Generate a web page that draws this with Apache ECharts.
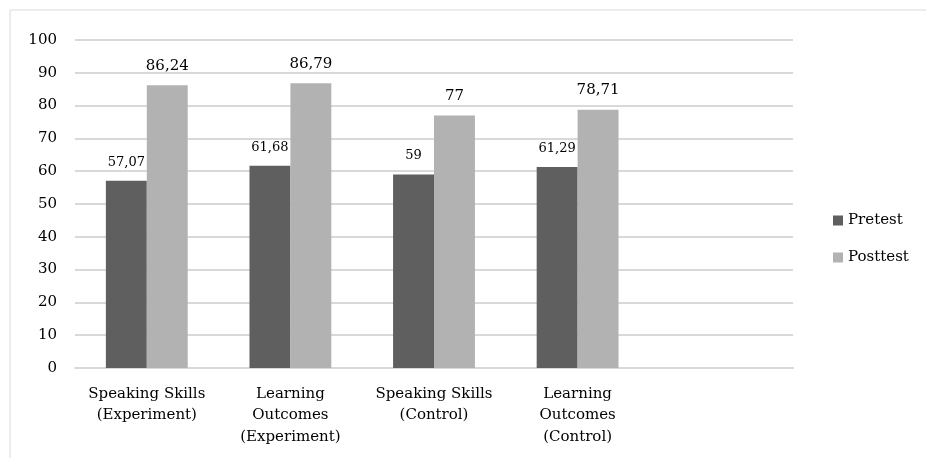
<!DOCTYPE html>
<html>
<head>
<meta charset="utf-8">
<title>Pretest vs Posttest</title>
<script src="https://cdn.jsdelivr.net/npm/echarts@6/dist/echarts.min.js"></script>
<style>
    html, body { margin: 0; padding: 0; background: #fff; }
    #chart { width: 926px; height: 458px; }
</style>
</head>
<body>
<div id="chart"></div>
<script>
// categories (last one is empty, the original chart leaves a blank slot)
let categories = [
    'Speaking Skills\n(Experiment)',
    'Learning\nOutcomes\n(Experiment)',
    'Speaking Skills\n(Control)',
    'Learning\nOutcomes\n(Control)',
    ''
];
let pretest = [57.07, 61.68, 59, 61.29, null];
let posttest = [86.24, 86.79, 77, 78.71, null];
let yTicks = [0, 10, 20, 30, 40, 50, 60, 70, 80, 90, 100];

let FONT = 'DejaVu Serif';

function fmtComma(v) {
    // values written with a decimal comma
    return String(v).replace('.', ',');
}

let myChart = echarts.init(document.getElementById('chart'));
let option = {
    animation: false,
    textStyle: {fontFamily: FONT},
    graphic: [{
        type: 'rect',
        shape: {x: 10, y: 10, width: 1000, height: 1000},
        style: {fill: 'none', stroke: '#d9d9d9', lineWidth: 1}
    }],
    legend: {
        orient: 'vertical',
        left: 828,
        top: 208,
        itemWidth: 10,
        itemHeight: 10,
        itemGap: 22,
        icon: 'rect',
        textStyle: {fontFamily: FONT, fontSize: 15, color: '#000'},
        data: ['Pretest', 'Posttest']
    },
    grid: {
        left: 75,
        top: 40,
        width: 718,
        height: 328,
        containLabel: false
    },
    xAxis: {
        type: 'category',
        data: categories,
        axisTick: {show: false},
        axisLine: {lineStyle: {color: '#d9d9d9', width: 2}},
        axisLabel: {
            interval: 0,
            margin: 15,
            fontFamily: FONT,
            fontSize: 15,
            lineHeight: 21.5,
            color: '#000'
        }
    },
    yAxis: {
        type: 'value',
        min: yTicks[0],
        max: yTicks[yTicks.length - 1],
        interval: 10,
        axisLine: {show: false},
        axisTick: {show: false},
        splitLine: {lineStyle: {color: '#d9d9d9', width: 2}},
        axisLabel: {
            margin: 18,
            fontFamily: FONT,
            fontSize: 15,
            color: '#000'
        }
    },
    series: [
        {
            name: 'Pretest',
            type: 'bar',
            data: pretest,
            barGap: '0%',
            barCategoryGap: '43%',
            itemStyle: {color: '#5f5f5f'},
            label: {
                show: true,
                position: 'top',
                distance: 12,
                fontFamily: FONT,
                fontSize: 13,
                color: '#000',
                formatter: function (p) {
                    return fmtComma(p.value);
                }
            }
        },
        {
            name: 'Posttest',
            type: 'bar',
            data: posttest,
            itemStyle: {color: '#b2b2b2'},
            label: {
                show: true,
                position: 'top',
                distance: 12,
                fontFamily: FONT,
                fontSize: 15,
                color: '#000',
                formatter: function (p) {
                    return fmtComma(p.value);
                }
            }
        }
    ]
};
myChart.setOption(option);
</script>
</body>
</html>
